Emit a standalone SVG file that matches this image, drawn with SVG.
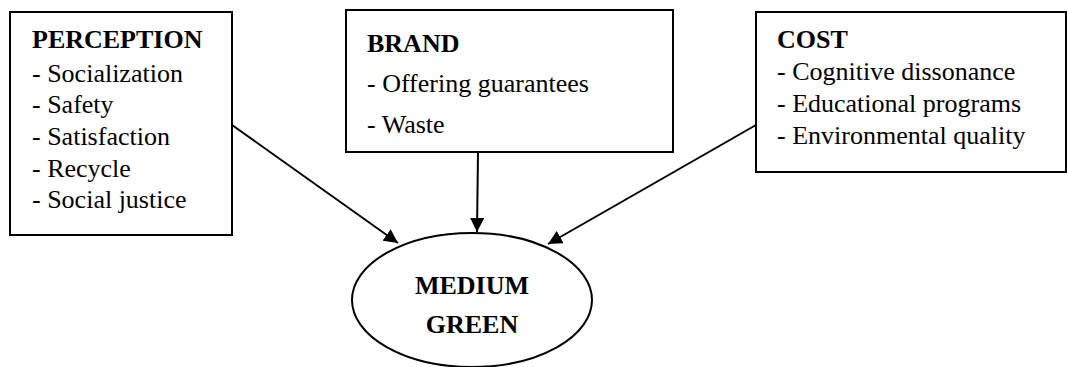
<svg xmlns="http://www.w3.org/2000/svg" width="1067" height="367" viewBox="0 0 1067 367">
<style>
.box{fill:#fff;stroke:#000;stroke-width:2}
.t{font-family:"Liberation Serif","Times New Roman",serif;font-size:26px;fill:#000}
.b{font-weight:bold}
.c{stroke:#000;stroke-width:2;fill:none}
</style>
<defs>
<marker id="ah" viewBox="0 0 14 14" refX="14" refY="7" markerWidth="14" markerHeight="14" markerUnits="userSpaceOnUse" orient="auto">
<path d="M0,0 L14,7 L0,14 Z" fill="#000"/>
</marker>
</defs>
<rect width="1067" height="367" fill="#fff"/>
<g id="connectors">
<line class="c" x1="232" y1="125" x2="398" y2="243" marker-end="url(#ah)"/>
<line class="c" x1="478" y1="152" x2="477" y2="232" marker-end="url(#ah)"/>
<line class="c" x1="756" y1="125" x2="548" y2="244" marker-end="url(#ah)"/>
</g>
<g id="perception">
<rect class="box" x="10" y="12" width="222" height="223"/>
<text class="t b" x="32" y="48">PERCEPTION</text>
<text class="t" x="32" y="81.7">- Socialization</text>
<text class="t" x="32" y="113.3">- Safety</text>
<text class="t" x="32" y="145">- Satisfaction</text>
<text class="t" x="32" y="176.7">- Recycle</text>
<text class="t" x="32" y="208.3">- Social justice</text>
</g>
<g id="brand">
<rect class="box" x="346" y="10" width="327" height="142"/>
<text class="t b" x="367" y="51.7">BRAND</text>
<text class="t" x="367" y="91.7">- Offering guarantees</text>
<text class="t" x="367" y="133.3">- Waste</text>
</g>
<g id="cost">
<rect class="box" x="756" y="12" width="310" height="160"/>
<text class="t b" x="777" y="48">COST</text>
<text class="t" x="777" y="80">- Cognitive dissonance</text>
<text class="t" x="777" y="112">- Educational programs</text>
<text class="t" x="777" y="144">- Environmental quality</text>
</g>
<g id="medium-green">
<ellipse class="box" cx="472" cy="300" rx="120" ry="67"/>
<text class="t b" x="472" y="294" text-anchor="middle">MEDIUM</text>
<text class="t b" x="472" y="333" text-anchor="middle">GREEN</text>
</g>
</svg>
